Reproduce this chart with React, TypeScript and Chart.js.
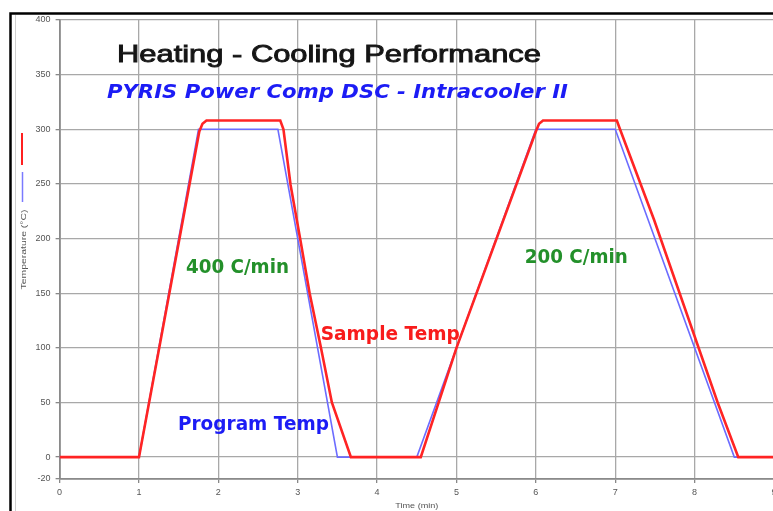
import React, { useEffect, useRef } from "react";
import { Chart, registerables } from "chart.js";

Chart.register(...registerables);

// ---- data ----
const programTime = [0, 1, 1.75, 2.75, 3.5, 4.5, 6.0, 7.0, 8.5, 9];
const programTemp = [0, 0, 300, 300, 0, 0, 300, 300, 0, 0];

const sampleTime = [0, 1.0, 1.76, 1.8, 1.85, 2.78, 2.82, 2.91, 3.03, 3.15, 3.29, 3.43, 3.67, 4.55, 5.0, 6.0, 6.04, 6.09, 7.02, 7.06, 7.49, 8.29, 8.55, 9];
const sampleTemp = [0, 0, 298, 305, 308, 308, 300, 249, 200, 150, 101, 50, 0, 0, 100, 298, 305, 308, 308, 300, 217, 50, 0, 0];

const xTicks = [0, 1, 2, 3, 4, 5, 6, 7, 8, 9];
const yTicks = [-20, 0, 50, 100, 150, 200, 250, 300, 350, 400];

const xTitle = "Time (min)";
const yTitle = "Temperature (°C)";

// text annotations (data coordinates of left/baseline), target widths in px
const notes = [
  { text: "Heating - Cooling Performance", x: 0.723, y: 361.6, w: 424, font: "24px 'Liberation Sans', Arial, sans-serif", color: "#151515", stroke: 0.9 },
  { text: "PYRIS Power Comp DSC - Intracooler II", x: 0.597, y: 328.6, w: 461, font: "italic bold 20px 'DejaVu Sans', sans-serif", color: "#1c1cf5", stroke: 0 },
  { text: "400 C/min", x: 1.592, y: 168.4, w: 103, font: "bold 19px 'DejaVu Sans', sans-serif", color: "#23902a", stroke: 0 },
  { text: "200 C/min", x: 5.86, y: 177.6, w: 103, font: "bold 19px 'DejaVu Sans', sans-serif", color: "#23902a", stroke: 0 },
  { text: "Sample Temp", x: 3.29, y: 107.1, w: 139, font: "bold 19px 'DejaVu Sans', sans-serif", color: "#f81c1c", stroke: 0 },
  { text: "Program Temp", x: 1.491, y: 24.7, w: 151, font: "bold 19px 'DejaVu Sans', sans-serif", color: "#1c1cf5", stroke: 0 },
];

function stretchText(ctx: CanvasRenderingContext2D, text: string, x: number, y: number, w: number, stroke = 0) {
  const m = ctx.measureText(text).width;
  ctx.save();
  ctx.translate(x, y);
  ctx.scale(w / m, 1);
  ctx.fillText(text, 0, 0);
  if (stroke > 0) {
    ctx.strokeStyle = ctx.fillStyle as string;
    ctx.lineWidth = stroke;
    ctx.strokeText(text, 0, 0);
  }
  ctx.restore();
}

const decor = {
  id: "decor",
  beforeDraw(chart: any) {
    const ctx = chart.ctx as CanvasRenderingContext2D;
    ctx.save();
    ctx.fillStyle = "#ffffff";
    ctx.fillRect(0, 0, chart.width, chart.height);
    // frame
    ctx.strokeStyle = "#000000";
    ctx.lineWidth = 2.5;
    ctx.beginPath();
    ctx.moveTo(10.5, chart.height);
    ctx.lineTo(10.5, 13.5);
    ctx.lineTo(chart.width, 13.5);
    ctx.stroke();
    ctx.strokeStyle = "#cfcfcf";
    ctx.lineWidth = 1;
    ctx.beginPath();
    ctx.moveTo(15.5, 15);
    ctx.lineTo(15.5, chart.height);
    ctx.stroke();
    ctx.restore();
  },
  afterDatasetsDraw(chart: any) {
    const ctx = chart.ctx as CanvasRenderingContext2D;
    const xs = chart.scales.x;
    const ys = chart.scales.y;
    ctx.save();
    ctx.textBaseline = "alphabetic";
    ctx.textAlign = "left";
    for (const n of notes) {
      ctx.font = n.font;
      ctx.fillStyle = n.color;
      stretchText(ctx, n.text, xs.getPixelForValue(n.x), ys.getPixelForValue(n.y), n.w, n.stroke);
    }
    // axis titles
    ctx.fillStyle = "#555555";
    ctx.font = "8px 'Liberation Sans', Arial, sans-serif";
    ctx.textAlign = "left";
    const cx = (chart.chartArea.left + chart.chartArea.right) / 2;
    ctx.textBaseline = "middle";
    stretchText(ctx, xTitle, cx - 21.5, 506, 43);
    ctx.save();
    const cy = (chart.chartArea.top + chart.chartArea.bottom) / 2;
    ctx.translate(24, cy);
    ctx.rotate(-Math.PI / 2);
    stretchText(ctx, yTitle, -40, 0, 80);
    ctx.restore();
    // legend swatches
    ctx.lineWidth = 2;
    ctx.strokeStyle = "#ff2020";
    ctx.beginPath();
    ctx.moveTo(22, 133);
    ctx.lineTo(22, 165);
    ctx.stroke();
    ctx.lineWidth = 1.5;
    ctx.strokeStyle = "#7a7aff";
    ctx.beginPath();
    ctx.moveTo(22.5, 172);
    ctx.lineTo(22.5, 202);
    ctx.stroke();
    ctx.restore();
  },
};

export default function App() {
  const ref = useRef<HTMLCanvasElement | null>(null);
  useEffect(() => {
    if (!ref.current) return;
    const program = programTime.map((t, i) => ({ x: t, y: programTemp[i] }));
    const sample = sampleTime.map((t, i) => ({ x: t, y: sampleTemp[i] }));
    const chart = new Chart(ref.current, {
      type: "line",
      data: {
        datasets: [
          {
            label: "Program Temp",
            data: program,
            borderColor: "#6c6cff",
            borderWidth: 1.6,
            pointRadius: 0,
            tension: 0,
            order: 2,
          },
          {
            label: "Sample Temp",
            data: sample,
            borderColor: "#ff2424",
            borderWidth: 2.6,
            pointRadius: 0,
            tension: 0,
            order: 1,
          },
        ],
      },
      options: {
        animation: false,
        responsive: false,
        devicePixelRatio: 1,
        layout: { padding: { left: 0, top: 20, right: 26, bottom: 0 } },
        plugins: { legend: { display: false }, tooltip: { enabled: false }, title: { display: false } },
        scales: {
          x: {
            type: "linear",
            min: 0,
            max: 9,
            afterBuildTicks: (s: any) => {
              s.ticks = xTicks.map((v) => ({ value: v }));
            },
            afterFit: (s: any) => {
              s.height = 32;
            },
            grid: { color: "#a8a8a8", lineWidth: 1.3, tickLength: 4, tickColor: "#888" },
            border: { color: "#8a8a8a", width: 1.8 },
            ticks: { color: "#555", font: { size: 9, family: "'Liberation Sans', Arial, sans-serif" }, padding: 4, maxRotation: 0 },
          },
          y: {
            type: "linear",
            min: -20,
            max: 400,
            afterBuildTicks: (s: any) => {
              s.ticks = yTicks.map((v) => ({ value: v }));
            },
            afterFit: (s: any) => {
              s.width = 59.6;
            },
            grid: { color: "#a8a8a8", lineWidth: 1.3, tickLength: 4, tickColor: "#888" },
            border: { color: "#8a8a8a", width: 1.8 },
            ticks: { color: "#555", font: { size: 9, family: "'Liberation Sans', Arial, sans-serif" }, padding: 5 },
          },
        },
      },
      plugins: [decor],
    });
    return () => chart.destroy();
  }, []);
  return (
    <div style={{ position: "fixed", left: 0, top: 0, width: 773, height: 511, overflow: "hidden", background: "#fff" }}>
      <canvas ref={ref} width={800} height={511} style={{ display: "block", width: 800, height: 511 }} />
    </div>
  );
}
